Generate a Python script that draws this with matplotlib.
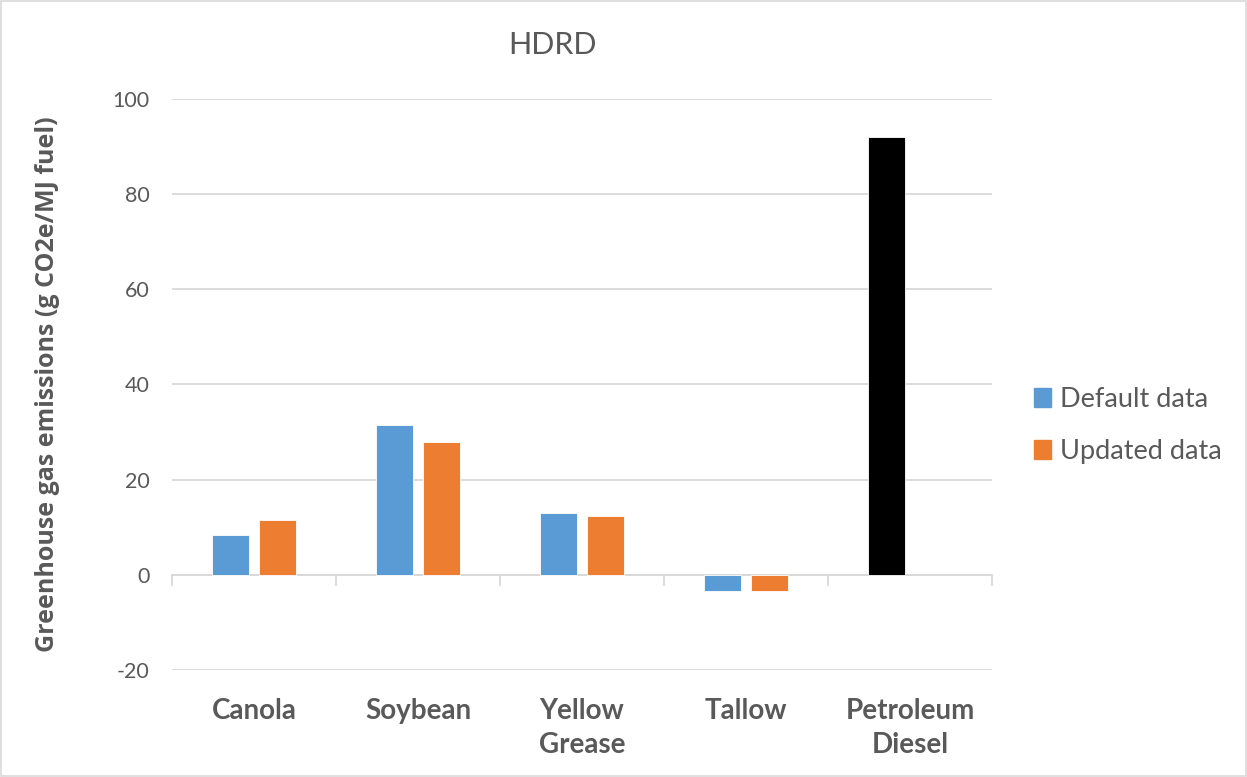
import numpy as np
import matplotlib
matplotlib.use("Agg")
import matplotlib.pyplot as plt
from matplotlib.patches import Rectangle

plt.rcParams["axes.unicode_minus"] = False

# ---------- data ----------
categories = ["Canola", "Soybean", "Yellow\nGrease", "Tallow", "Petroleum\nDiesel"]
default_data = [8.4, 31.4, 12.9, -3.3, 92.0]
updated_data = [11.5, 28.0, 12.3, -3.3, np.nan]
series_names = ["Default data", "Updated data"]

TEXT = "#595959"
GRID = "#d9d9d9"
BLUE = "#5b9bd5"
ORANGE = "#ed7d31"
NARROW = ["Lato", "DejaVu Sans"]

fig = plt.figure(figsize=(12.47, 7.77), dpi=100)
ax = fig.add_axes([0.1379, 0.1377, 0.6576, 0.7349])

x = np.arange(len(categories))
w = 0.225
off = 0.143

bar_colors = [BLUE] * (len(categories) - 1) + ["black"]
ax.bar(x - off, default_data, w, color=bar_colors, edgecolor="white", linewidth=0.6,
       label=series_names[0], zorder=3)
ax.bar(x + off, updated_data, w, color=ORANGE, edgecolor="white", linewidth=0.6,
       label=series_names[1], zorder=3)

# axes styling
ax.set_xlim(-0.5, len(categories) - 0.5)
ax.set_ylim(-20, 100)
ax.set_yticks(np.arange(-20, 101, 20))
ax.yaxis.grid(True, color=GRID, linewidth=1.3, zorder=0)
ax.tick_params(axis="y", length=0, pad=16, labelsize=15.5, labelcolor=TEXT)
for lab in ax.get_yticklabels():
    lab.set_family(NARROW)
for s in ax.spines.values():
    s.set_visible(False)

# zero line with category separators
ax.axhline(0, color=GRID, linewidth=1.3, zorder=2)
ax.set_xticks([])
for b in np.arange(-0.5, len(categories), 1.0):
    ax.plot([b, b], [0, -2.2], color=GRID, linewidth=1.3, zorder=2, clip_on=False)

for xi, name in zip(x, categories):
    ax.text(xi, -25.8, name, ha="center", va="top", fontsize=20, fontweight="bold",
            color=TEXT, family=NARROW, linespacing=1.42)

ax.set_ylabel("Greenhouse gas emissions (g CO2e/MJ fuel)", fontsize=18,
              fontweight="bold", color=TEXT, family=["Open Sans", "DejaVu Sans"])
ax.yaxis.set_label_coords(-0.137, 0.5)

fig.text(0.443, 0.942, "HDRD", ha="center", va="center", fontsize=22,
         color=TEXT, family=NARROW)

# legend: the black diesel bar is not a series of its own
handles = [Rectangle((0, 0), 1, 1, color=BLUE), Rectangle((0, 0), 1, 1, color=ORANGE)]
leg = fig.legend(handles, series_names, loc="center left", bbox_to_anchor=(0.81, 0.452),
                 frameon=False, fontsize=19.5, handlelength=0.6, handleheight=0.7,
                 handletextpad=0.35, labelspacing=1.0)
for t in leg.get_texts():
    t.set_color(TEXT)
    t.set_family(NARROW)

# chart border
fig.patches.append(Rectangle((0.001, 0.001), 0.998, 0.998, transform=fig.transFigure,
                             fill=False, edgecolor=GRID, linewidth=1.2))

fig.savefig("out.png", dpi=100)
